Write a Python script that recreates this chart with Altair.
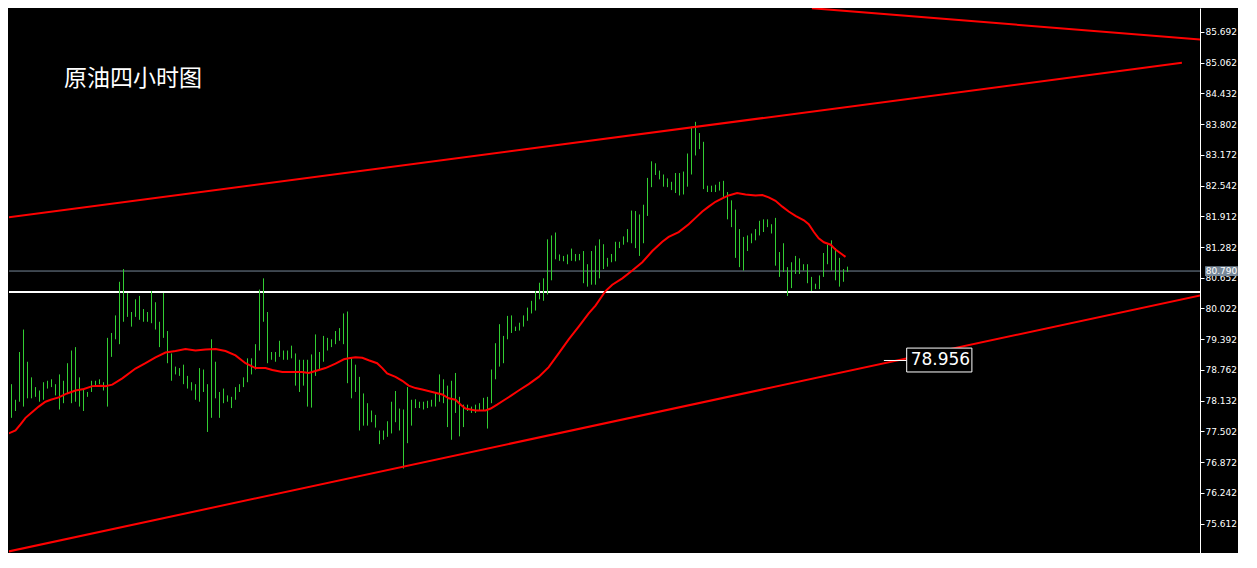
import altair as alt
import pandas as pd

title_text = "原油四小时图"

# bar high / low (each entry = one 4px column of the chart)
bar_high = [
    78.47, 78.15, 79.13, 79.59, 78.93, 78.61, 78.41, 78.34, 78.51, 78.54,
    78.57, 78.47, 78.67, 78.54, 78.90, 79.16, 79.23, 78.61, 78.38, 78.31,
    78.54, 78.54, 78.57, 78.51, 79.42, 79.52, 79.88, 80.57, 80.83, 80.34,
    79.95, 80.21, 80.28, 80.01, 79.95, 80.38, 80.15, 79.75, 80.34, 79.56,
    79.10, 78.83, 78.80, 78.87, 78.64, 78.51, 78.47, 78.80, 78.77, 78.47,
    79.39, 78.93, 78.31, 78.38, 78.24, 78.21, 78.41, 78.47, 78.61, 79.00,
    79.00, 79.29, 80.41, 80.64, 79.95, 79.13, 79.13, 79.36, 79.16, 79.16,
    79.26, 79.10, 78.97, 78.97, 78.97, 79.08, 79.49, 79.13, 79.46, 79.42,
    79.39, 79.56, 79.62, 79.92, 79.96, 79.00, 78.87, 78.62, 78.28, 78.08,
    77.93, 77.84, 77.52, 77.52, 77.71, 78.11, 78.33, 77.97, 77.95, 78.41,
    78.15, 78.16, 78.11, 78.11, 78.13, 78.15, 78.30, 78.67, 78.57, 78.44,
    78.54, 78.70, 78.21, 78.05, 78.05, 78.01, 78.05, 78.08, 78.19, 78.21,
    78.77, 79.31, 79.70, 79.46, 79.87, 79.88, 79.65, 79.73, 79.88, 80.04,
    80.18, 80.38, 80.55, 80.64, 81.44, 81.52, 81.58, 81.13, 81.10, 81.13,
    81.25, 81.14, 81.14, 81.20, 80.93, 81.20, 81.31, 81.44, 81.34, 81.06,
    81.14, 81.39, 81.39, 81.50, 81.65, 82.03, 82.02, 81.95, 82.15, 82.70,
    83.04, 83.00, 82.85, 82.77, 82.69, 82.62, 82.80, 82.80, 82.83, 83.20,
    83.75, 83.85, 83.62, 83.44, 82.54, 82.54, 82.56, 82.62, 82.64, 82.41,
    82.24, 82.05, 81.65, 81.49, 81.52, 81.56, 81.65, 81.82, 81.85, 81.85,
    81.75, 81.88, 81.18, 81.36, 80.87, 80.97, 81.10, 81.05, 80.93, 80.93,
    80.67, 80.53, 80.70, 81.16, 81.33, 81.42, 81.26, 81.06, 80.83, 80.88,
]
bar_low = [
    77.78, 77.92, 78.11, 78.01, 78.18, 78.18, 78.21, 78.11, 78.15, 78.38,
    78.41, 78.24, 77.95, 78.08, 78.28, 78.08, 78.11, 78.01, 77.92, 78.21,
    78.31, 78.44, 78.47, 78.34, 78.01, 79.03, 79.39, 79.29, 79.75, 79.85,
    79.65, 79.85, 79.79, 79.75, 79.75, 79.72, 79.59, 79.23, 79.42, 78.90,
    78.54, 78.67, 78.64, 78.47, 78.38, 78.34, 78.15, 78.11, 78.31, 77.49,
    77.78, 78.18, 77.78, 78.08, 78.11, 77.98, 78.15, 78.31, 78.41, 78.51,
    78.67, 78.77, 79.16, 79.75, 78.90, 78.97, 78.93, 79.03, 78.97, 78.97,
    79.00, 78.44, 78.31, 78.44, 78.01, 77.99, 78.64, 78.77, 78.93, 79.16,
    79.23, 79.29, 79.36, 79.29, 78.49, 78.18, 78.31, 77.52, 77.62, 77.62,
    77.69, 77.58, 77.24, 77.33, 77.39, 77.46, 77.69, 77.52, 76.74, 77.26,
    77.62, 77.98, 77.98, 77.95, 77.98, 78.01, 78.01, 78.11, 78.08, 77.59,
    77.33, 77.88, 77.40, 77.59, 77.92, 77.88, 77.88, 77.92, 77.92, 77.56,
    78.08, 78.57, 78.83, 78.90, 79.39, 79.52, 79.56, 79.57, 79.65, 79.77,
    79.92, 79.98, 80.21, 80.18, 80.31, 80.60, 81.03, 81.00, 80.99, 80.93,
    81.00, 80.99, 81.01, 80.54, 80.47, 80.51, 80.51, 80.64, 80.83, 80.88,
    80.97, 80.99, 81.26, 81.33, 81.38, 81.36, 81.26, 81.10, 81.36, 81.92,
    82.51, 82.76, 82.67, 82.52, 82.51, 82.45, 82.39, 82.34, 82.36, 82.52,
    82.77, 83.16, 83.29, 82.47, 82.41, 82.41, 82.41, 82.44, 82.31, 81.85,
    81.69, 81.06, 80.87, 80.80, 81.20, 81.36, 81.42, 81.52, 81.59, 81.69,
    81.56, 80.90, 80.67, 80.77, 80.28, 80.44, 80.73, 80.73, 80.80, 80.54,
    80.38, 80.42, 80.42, 80.67, 80.93, 80.80, 80.60, 80.47, 80.57, 80.77,
]

# moving average (red curve)
ma_k = [0.3, 2, 3.3, 4.5, 6.2, 7.8, 9.5, 10.8, 12.8, 14.9, 17, 19.1, 21.2, 23.3, 24.5,
        26.2, 28.7, 32, 34.5, 37, 39.5, 42, 44.5, 47, 49.5, 52, 54.5, 57, 59.5, 62,
        64.5, 66.2, 68.7, 73.6, 75.3, 77, 79.5, 82, 84.1, 85.3, 87, 88.7, 90.3, 92.4,
        93.7, 94.9, 97, 98.7, 100.3, 102, 103.7, 106.2, 108.7, 110.3, 112, 113.3, 114.5,
        117, 119.5, 120.8, 122.4, 124.1, 125.8, 127.8, 130.3, 132.8, 135.3, 137.8, 140.3,
        142.8, 145.3, 147, 149.5, 151.2, 153.7, 156.2, 158.7, 161.2, 163.7, 165.3, 167.8,
        170.3, 172, 173.7, 175.3, 177, 178.7, 180.3, 182.4, 184.5, 187, 188.7, 190.3, 192,
        193.7, 195.3, 197, 199.1, 200.3, 201.6, 202.8, 204.1, 205.8, 207, 208.7, 209.5]
ma_price = [77.46, 77.52, 77.65, 77.78, 77.90, 78.01, 78.11, 78.15, 78.20, 78.28,
            78.34, 78.37, 78.43, 78.44, 78.43, 78.46, 78.59, 78.79, 78.90, 79.02,
            79.12, 79.15, 79.19, 79.16, 79.18, 79.19, 79.15, 79.06, 78.90, 78.80,
            78.80, 78.76, 78.72, 78.72, 78.70, 78.74, 78.80, 78.89, 78.98, 79.00,
            79.02, 79.01, 78.96, 78.90, 78.80, 78.69, 78.62, 78.54, 78.44, 78.39,
            78.36, 78.31, 78.26, 78.18, 78.15, 78.05, 77.97, 77.93, 77.93, 77.97,
            78.05, 78.14, 78.23, 78.34, 78.47, 78.62, 78.82, 79.10, 79.39, 79.65,
            79.92, 80.08, 80.38, 80.51, 80.64, 80.80, 80.97, 81.20, 81.39, 81.49,
            81.59, 81.75, 81.88, 82.01, 82.11, 82.21, 82.28, 82.34, 82.39, 82.36,
            82.34, 82.35, 82.30, 82.23, 82.11, 82.01, 81.92, 81.83, 81.75, 81.59,
            81.46, 81.38, 81.33, 81.23, 81.13, 81.08]
assert len(ma_k) == len(ma_price)
assert len(bar_high) == len(bar_low) == 210

# trend lines (drawn red)
trend_name = ["top", "top", "upper", "upper", "lower", "lower"]
trend_k = [201.1, 302.1, 0.3, 293.6, 0.3, 302.1]
trend_price = [86.18, 85.51, 81.89, 85.06, 75.04, 80.36]

axis_ticks = [75.612, 76.242, 76.872, 77.502, 78.132, 78.762, 79.392, 80.022,
              80.652, 81.282, 81.912, 82.542, 83.172, 83.802, 84.432, 85.062, 85.692]

bid_price = 80.790
support_price = 80.36
channel_label = 78.956

# annotation boxes (in data units)
tag_k = [299.4, 307.6]
tag_price = [80.89, 80.69]
box_k = [224.8, 241.1]
box_price = [79.21, 78.72]
seg_k = [219.1, 224.8]

W, H = 1191, 545
X_DOMAIN = [0.375, 0.375 + W / 4]
Y_DOMAIN = [75.008, 86.184]

xs = alt.Scale(domain=X_DOMAIN, nice=False, zero=False)
ys = alt.Scale(domain=Y_DOMAIN, nice=False, zero=False)
yaxis = alt.Axis(orient="right", values=axis_ticks, format=".3f", title=None, grid=False,
                 domainColor="white", domainWidth=1, tickColor="white", tickSize=4,
                 tickWidth=1, labelColor="white", labelFont="DejaVu Sans", labelFontSize=9,
                 labelPadding=1, labelAlign="left", labelBaseline="middle",
                 labelFlush=False, labelOverlap=False)


def X(f):
    return alt.X(f, type="quantitative", scale=xs, axis=None)


def Y(f):
    return alt.Y(f, type="quantitative", scale=ys, axis=yaxis)


bars_df = pd.DataFrame({"k": list(range(1, 211)), "high": bar_high, "low": bar_low})
ma_df = pd.DataFrame({"k": ma_k, "p": ma_price})
tr_df = pd.DataFrame({"name": trend_name, "k": trend_k, "p": trend_price})
hl_df = pd.DataFrame({"p": [bid_price]})
sl_df = pd.DataFrame({"p": [support_price]})
seg_df = pd.DataFrame({"k": [seg_k[0]], "k2": [seg_k[1]], "p": [channel_label]})
box_df = pd.DataFrame({"k": [box_k[0]], "k2": [box_k[1]], "p": [box_price[0]], "p2": [box_price[1]]})
lbl_df = pd.DataFrame({"k": [box_k[0] + 1.0], "p": [channel_label], "t": [f"{channel_label:.3f}"]})
tag_df = pd.DataFrame({"k": [tag_k[0]], "k2": [tag_k[1]], "p": [tag_price[0]], "p2": [tag_price[1]]})
tagt_df = pd.DataFrame({"k": [(tag_k[0] + tag_k[1]) / 2], "p": [bid_price], "t": [f"{bid_price:.3f}"]})
title_df = pd.DataFrame({"t": [title_text]})

bid = alt.Chart(hl_df).mark_rule(color="#778899", strokeWidth=1).encode(y=Y("p"))
sup = alt.Chart(sl_df).mark_rule(color="white", strokeWidth=2).encode(y=Y("p"))
bars = alt.Chart(bars_df).mark_rule(color="#32CD32", strokeWidth=1).encode(
    x=X("k"), y=Y("low"), y2="high")
ma = alt.Chart(ma_df).mark_line(color="#FF0000", strokeWidth=2, clip=True).encode(
    x=X("k"), y=Y("p"))
trends = alt.Chart(tr_df).mark_line(color="#FF0000", strokeWidth=2, clip=True).encode(
    x=X("k"), y=Y("p"), detail="name:N")
seg = alt.Chart(seg_df).mark_rule(color="white", strokeWidth=1).encode(
    x=X("k"), x2="k2", y=Y("p"))
box = alt.Chart(box_df).mark_rect(fill="black", stroke="white", strokeWidth=1).encode(
    x=X("k"), x2="k2", y=Y("p"), y2="p2")
lbl = alt.Chart(lbl_df).mark_text(color="white", font="DejaVu Sans", fontSize=17,
                                  align="left", baseline="middle").encode(
    x=X("k"), y=Y("p"), text="t:N")
tag = alt.Chart(tag_df).mark_rect(fill="#778899").encode(
    x=X("k"), x2="k2", y=Y("p"), y2="p2")
tagt = alt.Chart(tagt_df).mark_text(color="white", font="DejaVu Sans", fontSize=9,
                                    align="center", baseline="middle").encode(
    x=X("k"), y=Y("p"), text="t:N")
title = alt.Chart(title_df).mark_text(color="white", font="Noto Sans CJK SC", fontSize=23,
                                      align="left", baseline="middle").encode(
    x=alt.value(55), y=alt.value(71), text="t:N")

chart = alt.layer(bid, sup, bars, ma, trends, seg, box, lbl, tag, tagt, title).properties(
    width=W, height=H, padding=0, background="black"
).configure_view(stroke=None)

chart.save("out.html", embed_options={"renderer": "svg", "actions": False})
